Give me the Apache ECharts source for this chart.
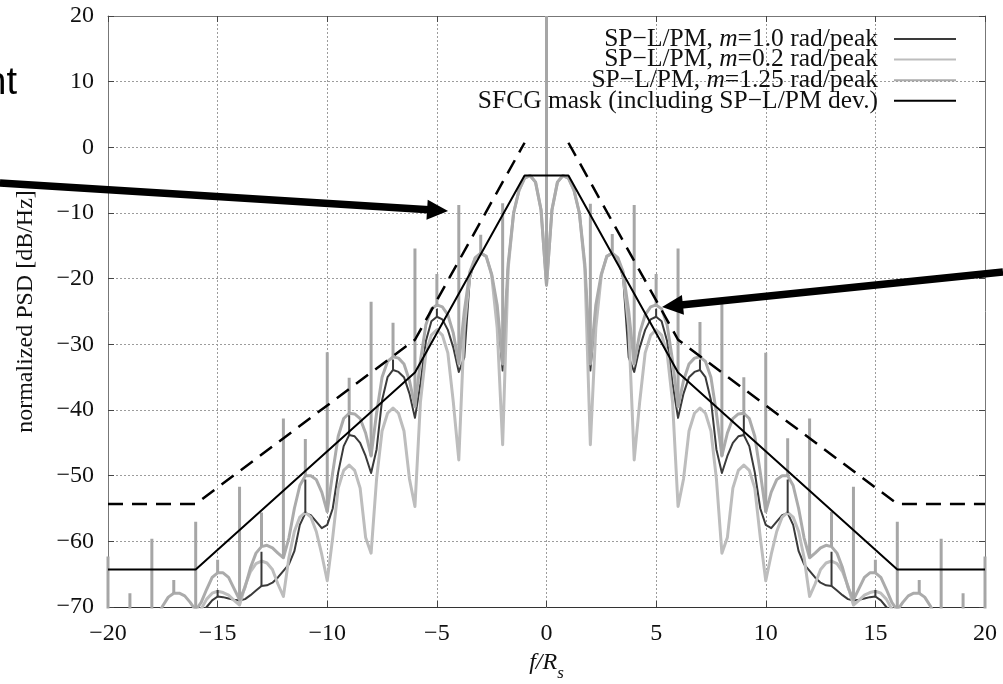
<!DOCTYPE html>
<html>
<head>
<meta charset="utf-8">
<script src="https://cdn.jsdelivr.net/npm/echarts@6/dist/echarts.min.js"></script>
<style>
  html, body { margin: 0; padding: 0; background: #fff; }
  #chart { width: 1003px; height: 684px; }
</style>
</head>
<body>
<div id="chart"></div>
<script>
// Frequency grid of the PSD samples: f/Rs from -20 to 20 in steps of 0.25
const F_MIN = -20;
const F_STEP = 0.25;

// Normalized PSD [dB/Hz], m = 0.2 rad/peak
const PSD_M020 = [
  -75, -75, -75, -75, -75, -75, -75, -75,
  -75, -73.0, -72.0, -71.3, -71.0, -71.2, -71.6, -72.4,
  -73.0, -70.3, -68.8, -67.9, -67.6, -67.8, -68.2, -69.0,
  -69.7, -66.8, -64.6, -63.4, -63.0, -63.3, -64.3, -66.5,
  -68.4, -62.5, -58.5, -56.3, -55.6, -56.3, -58.5, -62.0,
  -66.0, -59.4, -51.9, -49.2, -48.4, -49.2, -51.9, -59.4,
  -61.8, -50.5, -43.2, -40.5, -39.7, -40.5, -43.2, -50.5,
  -54.7, -38.8, -31.3, -28.6, -27.8, -28.6, -31.3, -38.8,
  -47.6, -27.5, -19.6, -16.9, -16.1, -16.6, -19.5, -27.5,
  -45.3, -18.5, -10.0, -6.5, -4.7, -4.3, -5.3, -9.5,
  -21.0,
  -9.5, -5.3, -4.3, -4.7, -6.5, -10.0, -18.5, -45.3,
  -27.5, -19.5, -16.6, -16.1, -16.9, -19.6, -27.5, -47.6,
  -38.8, -31.3, -28.6, -27.8, -28.6, -31.3, -38.8, -54.7,
  -50.5, -43.2, -40.5, -39.7, -40.5, -43.2, -50.5, -61.8,
  -59.4, -51.9, -49.2, -48.4, -49.2, -51.9, -59.4, -66.0,
  -62.0, -58.5, -56.3, -55.6, -56.3, -58.5, -62.5, -68.4,
  -66.5, -64.3, -63.3, -63.0, -63.4, -64.6, -66.8, -69.7,
  -69.0, -68.2, -67.8, -67.6, -67.9, -68.8, -70.3, -73.0,
  -72.4, -71.6, -71.2, -71.0, -71.3, -72.0, -73.0, -75,
  -75, -75, -75, -75, -75, -75, -75, -75
];

// Normalized PSD [dB/Hz], m = 1.25 rad/peak (continuous part)
const PSD_M125 = [
  -75.0, -74.0, -73.0, -71.8, -71.3, -71.4, -71.8, -72.5,
  -73.0, -71.5, -69.8, -68.5, -67.9, -67.9, -68.3, -69.3,
  -70.5, -69.3, -67.3, -65.5, -64.8, -64.8, -65.5, -67.2,
  -68.9, -67.0, -64.0, -61.8, -60.8, -60.6, -61.0, -61.8,
  -62.5, -59.5, -55.0, -51.5, -50.0, -50.0, -50.6, -52.5,
  -55.5, -49.5, -44.0, -41.3, -40.5, -40.6, -41.3, -43.5,
  -47.0, -40.5, -35.0, -32.6, -31.9, -32.1, -33.0, -35.5,
  -39.5, -32.5, -27.0, -24.6, -24.0, -24.3, -25.5, -28.3,
  -33.0, -25.0, -19.0, -16.8, -16.1, -16.6, -19.3, -24.0,
  -33.0, -17.8, -10.0, -6.5, -4.7, -4.3, -5.3, -9.5,
  -21.0,
  -9.5, -5.3, -4.3, -4.7, -6.5, -10.0, -17.8, -33.0,
  -24.0, -19.3, -16.6, -16.1, -16.8, -19.0, -25.0, -33.0,
  -28.3, -25.5, -24.3, -24.0, -24.6, -27.0, -32.5, -39.5,
  -35.5, -33.0, -32.1, -31.9, -32.6, -35.0, -40.5, -47.0,
  -43.5, -41.3, -40.6, -40.5, -41.3, -44.0, -49.5, -55.5,
  -52.5, -50.6, -50.0, -50.0, -51.5, -55.0, -59.5, -62.5,
  -61.8, -61.0, -60.6, -60.8, -61.8, -64.0, -67.0, -68.9,
  -67.2, -65.5, -64.8, -64.8, -65.5, -67.3, -69.3, -70.5,
  -69.3, -68.3, -67.9, -67.9, -68.5, -69.8, -71.5, -73.0,
  -72.5, -71.8, -71.4, -71.3, -71.8, -73.0, -74.0, -75.0
];

// Normalized PSD [dB/Hz], m = 1.0 rad/peak
const PSD_M100 = [
  -73, -73, -73, -73, -73, -73, -73, -73,
  -73, -73, -73, -73, -73, -73, -73, -73,
  -72.0, -71.0, -70.0, -69.0, -68.4, -68.5, -68.7, -68.9,
  -69.0, -68.8, -68.2, -67.5, -66.8, -66.7, -66.3, -65.5,
  -64.5, -63.5, -61.5, -57.5, -55.7, -56.0, -57.0, -58.0,
  -57.5, -55.0, -49.5, -45.5, -43.8, -44.0, -45.0, -47.0,
  -49.6, -46.0, -38.5, -35.0, -33.9, -34.2, -35.0, -37.5,
  -41.2, -36.0, -29.5, -26.5, -25.8, -26.2, -27.8, -30.5,
  -34.2, -32.0, -20.0, -16.9, -16.1, -16.6, -19.4, -24.5,
  -34.0, -18.0, -10.0, -6.5, -4.7, -4.3, -5.3, -9.5,
  -21.0,
  -9.5, -5.3, -4.3, -4.7, -6.5, -10.0, -18.0, -34.0,
  -24.5, -19.4, -16.6, -16.1, -16.9, -20.0, -32.0, -34.2,
  -30.5, -27.8, -26.2, -25.8, -26.5, -29.5, -36.0, -41.2,
  -37.5, -35.0, -34.2, -33.9, -35.0, -38.5, -46.0, -49.6,
  -47.0, -45.0, -44.0, -43.8, -45.5, -49.5, -55.0, -57.5,
  -58.0, -57.0, -56.0, -55.7, -57.5, -61.5, -63.5, -64.5,
  -65.5, -66.3, -66.7, -66.8, -67.5, -68.2, -68.8, -69.0,
  -68.9, -68.7, -68.5, -68.4, -69.0, -70.0, -71.0, -72.0,
  -73, -73, -73, -73, -73, -73, -73, -73,
  -73, -73, -73, -73, -73, -73, -73, -73
];

// Discrete spectral lines of the m = 1.25 spectrum: position, foot and peak [dB/Hz]
const LINES_M125_F = [-20, -19, -18, -17, -16, -15, -14, -13, -12, -11, -10, -9, -8, -7, -6, -5, -4, -3, -2,
  0, 2, 3, 4, 5, 6, 7, 8, 9, 10, 11, 12, 13, 14, 15, 16, 17, 18, 19, 20];
const LINES_M125_TOP = [-62.3, -67.9, -59.6, -65.9, -57.0, -62.8, -51.7, -55.6, -41.3, -44.4, -31.2, -35.1, -23.5, -26.7, -15.4, -19.3, -8.8, -13.3, -8.5,
  20, -8.6, -13.2, -8.8, -19.3, -15.4, -26.6, -23.8, -35.0, -31.3, -44.3, -41.3, -55.5, -51.7, -62.8, -57.0, -65.9, -59.6, -67.9, -62.3];
const LINES_M125_FOOT = [-75, -71.3, -73, -67.9, -70.5, -64.8, -68.9, -60.8, -62.5, -50.0, -55.5, -40.5, -47.0, -31.9, -39.5, -24.0, -33.0, -16.1, -33.0,
  -21.0, -33.0, -16.1, -33.0, -24.0, -39.5, -31.9, -47.0, -40.5, -55.5, -50.0, -62.5, -60.8, -68.9, -64.8, -70.5, -67.9, -73, -71.3, -75];

// Discrete spectral lines of the m = 1.0 spectrum
const LINES_M100_F = [-15, -13, -11, -9, -7, -5, 5, 7, 9, 11, 13, 15];
const LINES_M100_TOP = [-67.4, -61.6, -50.6, -40.8, -32.3, -24.6, -24.6, -32.3, -40.8, -50.6, -61.6, -67.4];
const LINES_M100_FOOT = [-68.4, -66.8, -55.7, -43.8, -33.9, -25.8, -25.8, -33.9, -43.8, -55.7, -66.8, -68.4];

// SFCG spectral mask (including SP-L/PM deviation)
const MASK_F = [-20, -16, -6, -1, 1, 6, 16, 20];
const MASK_DB = [-64.3, -64.3, -34.3, -4.3, -4.3, -34.3, -64.3, -64.3];

// Upper (dashed) mask, two separate branches
const UPPER_F = [-20, -16, -6, -1, 0, 1, 6, 16, 20];
const UPPER_DB = [-54.3, -54.3, -29.3, 0.7, null, 0.7, -29.3, -54.3, -54.3];

// Annotation arrows: tail and tip in (f/Rs, dB) coordinates
const ARROWS = [
  { tail: [-24.93, -5.43], tip: [-4.49, -9.69] },
  { tail: [20.82, -18.98], tip: [5.27, -24.31] }
];

const NAMES = [
  'SP\u2212L/PM, m=1.0 rad/peak',
  'SP\u2212L/PM, m=0.2 rad/peak',
  'SP\u2212L/PM, m=1.25 rad/peak',
  'SFCG mask (including SP\u2212L/PM dev.)'
];

const SERIF = '"Liberation Serif", "DejaVu Serif", "Times New Roman", serif';
const TXT = '#111';
const LEGEND_FS = 25.5;

const curve = ys => ys.map((y, i) => [F_MIN + i * F_STEP, y]);
const pairs = (xs, ys) => xs.map((x, i) => [x, ys[i] === null ? '-' : ys[i]]);
const lines = (xs, foot, top) => {
  const out = [];
  xs.forEach((x, i) => { out.push([x, foot[i]], [x, top[i]], [x, '-']); });
  return out;
};
const minus = v => String(v).replace('-', '\u2212');

const chart = echarts.init(document.getElementById('chart'), null, { renderer: 'canvas' });

const gridLine = { show: true, lineStyle: { color: '#9c9c9c', width: 1, type: [2, 2] } };
const tick = { show: true, inside: true, length: 6, lineStyle: { color: '#444', width: 1 } };

const option = {
  animation: false,
  backgroundColor: '#fff',
  grid: { left: 108, right: 18, top: 16, bottom: 77, outerBoundsMode: 'none', containLabel: false },
  legend: {
    data: NAMES,
    orient: 'vertical',
    align: 'right',
    right: 46,
    top: 26,
    padding: 0,
    itemWidth: 62,
    itemHeight: 14,
    itemGap: -5.4,
    selectedMode: false,
    itemStyle: { opacity: 0 },
    formatter: name => {
      const k = name.indexOf('m=');
      if (k >= 0) {
        return '{r|' + name.slice(0, k) + '}{i|m}{r|' + name.slice(k + 1) + '}{g|}';
      }
      return '{r|' + name + '}{g|}';
    },
    textStyle: {
      fontFamily: SERIF, fontSize: LEGEND_FS, color: TXT, lineHeight: 20,
      rich: {
        r: { fontFamily: SERIF, fontSize: LEGEND_FS, color: TXT, lineHeight: 20 },
        i: { fontFamily: SERIF, fontSize: LEGEND_FS, fontStyle: 'italic', color: TXT, lineHeight: 20 },
        g: { width: 11, lineHeight: 20, fontSize: 12 }
      }
    }
  },
  xAxis: [
    {
      type: 'value', min: -20, max: 20, interval: 5, position: 'bottom',
      axisLine: { show: true, onZero: false, lineStyle: { color: '#333', width: 1 } },
      axisTick: tick,
      splitLine: gridLine,
      axisLabel: { fontFamily: SERIF, fontSize: 24, color: TXT, margin: 15, formatter: minus, showMinLabel: true, showMaxLabel: true },
      name: '{i|f/R}{s|s}',
      nameLocation: 'middle',
      nameGap: 38,
      nameTextStyle: {
        rich: {
          i: { fontFamily: SERIF, fontSize: 24, fontStyle: 'italic', color: TXT, lineHeight: 24, verticalAlign: 'top' },
          s: { fontFamily: SERIF, fontSize: 17, fontStyle: 'italic', color: TXT, lineHeight: 17, verticalAlign: 'top', padding: [14, 0, 0, 0] }
        }
      }
    },
    {
      type: 'value', min: -20, max: 20, interval: 5, position: 'top',
      axisLine: { show: true, onZero: false, lineStyle: { color: '#777', width: 1 } },
      axisTick: tick, splitLine: { show: false }, axisLabel: { show: false }
    }
  ],
  yAxis: [
    {
      type: 'value', min: -70, max: 20, interval: 10, position: 'left',
      axisLine: { show: true, onZero: false, lineStyle: { color: '#777', width: 1 } },
      axisTick: tick,
      splitLine: gridLine,
      axisLabel: { fontFamily: SERIF, fontSize: 24, color: TXT, margin: 14, formatter: minus, showMinLabel: true, showMaxLabel: true },
      name: 'normalized PSD [dB/Hz]',
      nameLocation: 'middle',
      nameGap: 70,
      nameTextStyle: { fontFamily: SERIF, fontSize: 24, color: TXT }
    },
    {
      type: 'value', min: -70, max: 20, interval: 10, position: 'right',
      axisLine: { show: true, onZero: false, lineStyle: { color: '#777', width: 1 } },
      axisTick: tick, splitLine: { show: false }, axisLabel: { show: false }
    }
  ],
  series: [
    {
      name: NAMES[0], type: 'line', data: curve(PSD_M100), symbol: 'none', z: 2,
      lineStyle: { color: '#3a3a3a', width: 2, join: 'round' }, itemStyle: { color: '#3a3a3a' }
    },
    {
      name: NAMES[1], type: 'line', data: curve(PSD_M020), symbol: 'none', z: 3,
      lineStyle: { color: '#bdbdbd', width: 3, join: 'round' }, itemStyle: { color: '#bdbdbd' }
    },
    {
      name: NAMES[2], type: 'line', data: curve(PSD_M125), symbol: 'none', z: 4,
      lineStyle: { color: '#ababab', width: 3, join: 'round' }, itemStyle: { color: '#ababab' }
    },
    {
      name: 'm=1.25 spectral lines', type: 'line', data: lines(LINES_M125_F, LINES_M125_FOOT, LINES_M125_TOP),
      symbol: 'none', z: 5, connectNulls: false,
      lineStyle: { color: '#a6a6a6', width: 3 }
    },
    {
      name: 'm=1.0 spectral lines', type: 'line', data: lines(LINES_M100_F, LINES_M100_FOOT, LINES_M100_TOP),
      symbol: 'none', z: 6, connectNulls: false,
      lineStyle: { color: '#3a3a3a', width: 2 }
    },
    {
      name: NAMES[3], type: 'line', data: pairs(MASK_F, MASK_DB), symbol: 'none', z: 7,
      lineStyle: { color: '#000', width: 2 }, itemStyle: { color: '#000' }
    },
    {
      name: 'upper mask', type: 'line', data: pairs(UPPER_F, UPPER_DB), symbol: 'none', z: 7, connectNulls: false,
      lineStyle: { color: '#000', width: 2.5, type: [15, 9] }
    }
  ]
};

chart.setOption(option);

// Arrows and the partial caption drawn on top of the plot
const toPx = p => chart.convertToPixel({ xAxisIndex: 0, yAxisIndex: 0 }, p);
const graphics = [];
ARROWS.forEach(a => {
  const t0 = toPx(a.tail), t1 = toPx(a.tip);
  const dx = t1[0] - t0[0], dy = t1[1] - t0[1];
  const len = Math.hypot(dx, dy);
  const ux = dx / len, uy = dy / len;
  const nx = -uy, ny = ux;
  const headLen = 21, headHalf = 10;
  const bx = t1[0] - ux * headLen, by = t1[1] - uy * headLen;
  graphics.push({
    type: 'line', z: 100,
    shape: { x1: t0[0], y1: t0[1], x2: bx + ux * 2, y2: by + uy * 2 },
    style: { stroke: '#000', lineWidth: 7.5 }
  });
  graphics.push({
    type: 'polygon', z: 100,
    shape: { points: [[t1[0], t1[1]], [bx + nx * headHalf, by + ny * headHalf], [bx - nx * headHalf, by - ny * headHalf]] },
    style: { fill: '#000' }
  });
});
graphics.push({
  type: 'text', z: 100, x: 17, y: 84,
  style: { text: 'nt', fontFamily: '"Liberation Sans", Arial, sans-serif', fontSize: 38, fill: '#000', align: 'right', verticalAlign: 'middle' }
});
chart.setOption({ graphic: graphics });
</script>
</body>
</html>
